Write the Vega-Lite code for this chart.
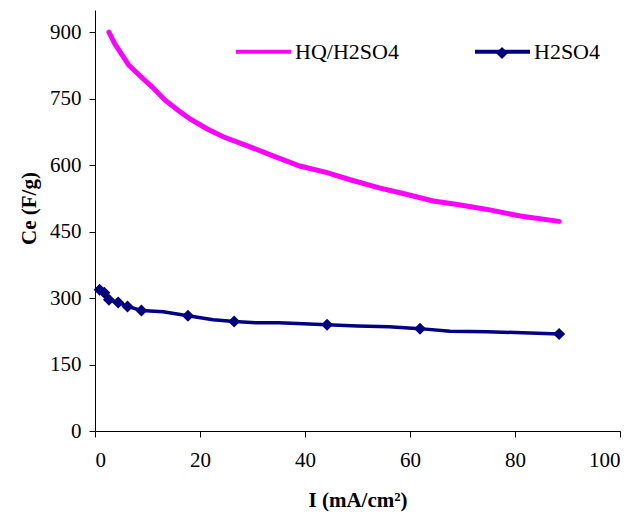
{
  "$schema": "https://vega.github.io/schema/vega-lite/v6.json",
  "width": 525,
  "height": 421,
  "autosize": {"type": "none"},
  "padding": {"left": 95, "top": 10, "right": 16, "bottom": 83},
  "background": "white",
  "config": {
    "view": {"stroke": null},
    "font": "Liberation Serif, serif",
    "axis": {
      "domainColor": "black", "tickColor": "black", "domainWidth": 1, "tickWidth": 1,
      "tickSize": 6, "grid": false, "labelFont": "Liberation Serif, serif", "labelFontSize": 21,
      "labelColor": "black", "titleFont": "Liberation Serif, serif", "titleFontSize": 21,
      "titleFontWeight": "bold", "titleColor": "black"
    },
    "legend": {"labelFont": "Liberation Serif, serif", "labelFontSize": 22, "labelColor": "black", "padding": 0}
  },
  "datasets": {
    "hq": [
      {"I": 2.65, "Ce": 900, "series": "HQ/H2SO4"},
      {"I": 3.8, "Ce": 873, "series": "HQ/H2SO4"},
      {"I": 5.4, "Ce": 844, "series": "HQ/H2SO4"},
      {"I": 6.4, "Ce": 826, "series": "HQ/H2SO4"},
      {"I": 8.6, "Ce": 801, "series": "HQ/H2SO4"},
      {"I": 10.9, "Ce": 776, "series": "HQ/H2SO4"},
      {"I": 13.3, "Ce": 747, "series": "HQ/H2SO4"},
      {"I": 15.8, "Ce": 724, "series": "HQ/H2SO4"},
      {"I": 18.1, "Ce": 704, "series": "HQ/H2SO4"},
      {"I": 21.3, "Ce": 682, "series": "HQ/H2SO4"},
      {"I": 24.4, "Ce": 664, "series": "HQ/H2SO4"},
      {"I": 28.9, "Ce": 644, "series": "HQ/H2SO4"},
      {"I": 33.9, "Ce": 621, "series": "HQ/H2SO4"},
      {"I": 39.0, "Ce": 598, "series": "HQ/H2SO4"},
      {"I": 44.2, "Ce": 583, "series": "HQ/H2SO4"},
      {"I": 48.6, "Ce": 567, "series": "HQ/H2SO4"},
      {"I": 54.3, "Ce": 548, "series": "HQ/H2SO4"},
      {"I": 58.7, "Ce": 536, "series": "HQ/H2SO4"},
      {"I": 64.4, "Ce": 519, "series": "HQ/H2SO4"},
      {"I": 69.0, "Ce": 511, "series": "HQ/H2SO4"},
      {"I": 74.7, "Ce": 500, "series": "HQ/H2SO4"},
      {"I": 81.0, "Ce": 485, "series": "HQ/H2SO4"},
      {"I": 88.4, "Ce": 473, "series": "HQ/H2SO4"}
    ],
    "h2line": [
      {"I": 0.88, "Ce": 319, "series": "H2SO4"},
      {"I": 1.77, "Ce": 312, "series": "H2SO4"},
      {"I": 2.65, "Ce": 296, "series": "H2SO4"},
      {"I": 4.42, "Ce": 290, "series": "H2SO4"},
      {"I": 6.19, "Ce": 281, "series": "H2SO4"},
      {"I": 8.84, "Ce": 272, "series": "H2SO4"},
      {"I": 13.0, "Ce": 269, "series": "H2SO4"},
      {"I": 17.7, "Ce": 260, "series": "H2SO4"},
      {"I": 22.5, "Ce": 251, "series": "H2SO4"},
      {"I": 26.5, "Ce": 247, "series": "H2SO4"},
      {"I": 31.0, "Ce": 244, "series": "H2SO4"},
      {"I": 35.0, "Ce": 244, "series": "H2SO4"},
      {"I": 44.2, "Ce": 240, "series": "H2SO4"},
      {"I": 50.0, "Ce": 237, "series": "H2SO4"},
      {"I": 56.0, "Ce": 235, "series": "H2SO4"},
      {"I": 61.9, "Ce": 231, "series": "H2SO4"},
      {"I": 67.6, "Ce": 225, "series": "H2SO4"},
      {"I": 74.7, "Ce": 224, "series": "H2SO4"},
      {"I": 88.4, "Ce": 219, "series": "H2SO4"}
    ],
    "h2markers": [
      {"I": 0.88, "Ce": 319, "marker": "H2SO4"},
      {"I": 1.77, "Ce": 312, "marker": "H2SO4"},
      {"I": 2.65, "Ce": 296, "marker": "H2SO4"},
      {"I": 4.42, "Ce": 290, "marker": "H2SO4"},
      {"I": 6.19, "Ce": 281, "marker": "H2SO4"},
      {"I": 8.84, "Ce": 272, "marker": "H2SO4"},
      {"I": 17.7, "Ce": 260, "marker": "H2SO4"},
      {"I": 26.5, "Ce": 247, "marker": "H2SO4"},
      {"I": 44.2, "Ce": 240, "marker": "H2SO4"},
      {"I": 61.9, "Ce": 231, "marker": "H2SO4"},
      {"I": 88.4, "Ce": 219, "marker": "H2SO4"}
    ]
  },
  "encoding": {
    "x": {
      "field": "I", "type": "quantitative",
      "scale": {"domain": [0, 100], "nice": false, "zero": false},
      "axis": {"values": [0, 20, 40, 60, 80, 100], "title": "I (mA/cm²)", "labelPadding": 12, "titlePadding": 19}
    },
    "y": {
      "field": "Ce", "type": "quantitative",
      "scale": {"domain": [0, 950], "nice": false},
      "axis": {"values": [0, 150, 300, 450, 600, 750, 900], "title": "Ce (F/g)", "labelPadding": 8, "titlePadding": 10, "titleY": 198}
    }
  },
  "layer": [
    {
      "data": {"name": "hq"},
      "mark": {"type": "line", "strokeWidth": 5, "strokeCap": "round"},
      "encoding": {
        "color": {
          "field": "series", "type": "nominal",
          "scale": {"domain": ["HQ/H2SO4", "H2SO4"], "range": ["#FF00FF", "#000080"]},
          "legend": {
            "title": null, "orient": "none", "direction": "horizontal",
            "legendX": 139, "legendY": 12, "symbolType": "stroke", "symbolSize": 3025,
            "symbolStrokeWidth": 4, "labelOffset": 2, "columnPadding": 68
          }
        }
      }
    },
    {
      "data": {"name": "h2line"},
      "mark": {"type": "line", "strokeWidth": 3.5},
      "encoding": {
        "color": {"field": "series", "type": "nominal"}
      }
    },
    {
      "data": {"name": "h2markers"},
      "mark": {"type": "point", "filled": true, "opacity": 1, "color": "#000080", "size": 144},
      "encoding": {
        "shape": {
          "field": "marker", "type": "nominal",
          "scale": {"domain": ["H2SO4"], "range": ["diamond"]},
          "legend": {
            "title": null, "orient": "none", "legendX": 396, "legendY": 32,
            "symbolSize": 144, "symbolFillColor": "#000080", "labelExpr": "''", "symbolOpacity": 1
          }
        }
      }
    }
  ]
}
